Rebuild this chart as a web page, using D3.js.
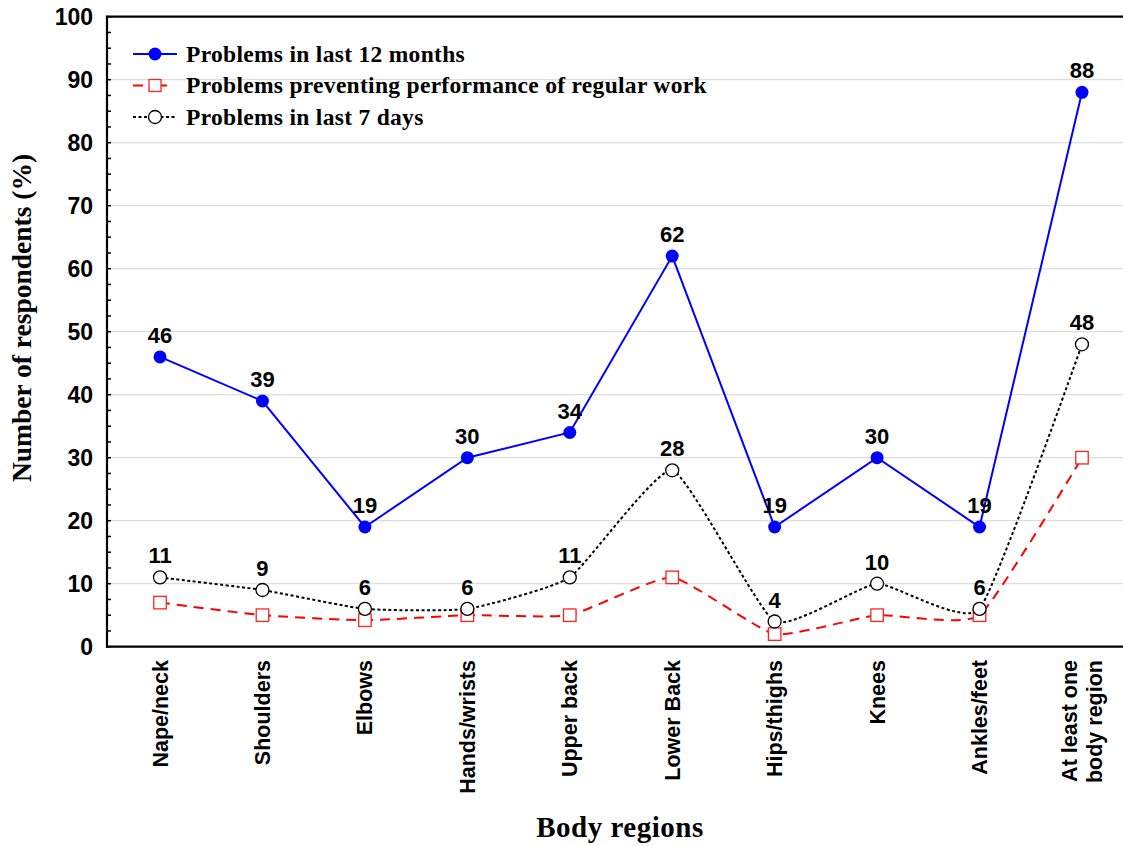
<!DOCTYPE html>
<html>
<head>
<meta charset="utf-8">
<script src="https://cdn.jsdelivr.net/npm/d3@7"></script>
<style>
  html, body { margin: 0; padding: 0; background: #fff; }
  svg { display: block; }
</style>
</head>
<body>
<svg id="chart" width="1123" height="846"></svg>
<script>
const categories = ["Nape/neck", "Shoulders", "Elbows", "Hands/wrists", "Upper back", "Lower Back", "Hips/thighs", "Knees", "Ankles/feet", "At least one\nbody region"];
const problems12Months = [46, 39, 19, 30, 34, 62, 19, 30, 19, 88];
const problemsWork = [7, 5, 4.2, 5, 5, 11, 2, 5, 5, 30];
const problems7Days = [11, 9, 6, 6, 11, 28, 4, 10, 6, 48];
const yTicks = [0, 10, 20, 30, 40, 50, 60, 70, 80, 90, 100];
const legendLabels = ["Problems in last 12 months", "Problems preventing performance of regular work", "Problems in last 7 days"];

(function () {
const svg = d3.select("#chart");
const pLeft = 107, pRight = 1123, pTop = 16.7, pBottom = 646.7;

const x = d3.scalePoint().domain(categories).range([108.8, 1133.2]).padding(0.5);
const y = d3.scaleLinear().domain([0, 100]).range([pBottom, pTop]);

// gridlines
svg.append("g").selectAll("line").data(yTicks.filter(d => d > 0 && d < 100)).join("line")
  .attr("x1", pLeft).attr("x2", pRight)
  .attr("y1", d => y(d)).attr("y2", d => y(d))
  .attr("stroke", "#d6d6d6").attr("stroke-width", 1);

// minor ticks
const minor = d3.range(0, 100.1, 2.5);
svg.append("g").selectAll("line").data(minor).join("line")
  .attr("x1", pLeft - 1).attr("x2", pLeft + 4)
  .attr("y1", d => y(d)).attr("y2", d => y(d))
  .attr("stroke", "#000").attr("stroke-width", 1.5);

// frame
svg.append("line").attr("x1", pLeft).attr("x2", pLeft).attr("y1", pTop - 1).attr("y2", pBottom + 1).attr("stroke", "#000").attr("stroke-width", 2.2);
svg.append("line").attr("x1", pLeft - 1).attr("x2", pRight).attr("y1", pBottom).attr("y2", pBottom).attr("stroke", "#000").attr("stroke-width", 2.2);
svg.append("line").attr("x1", pLeft - 1).attr("x2", pRight).attr("y1", pTop).attr("y2", pTop).attr("stroke", "#000").attr("stroke-width", 2.2);

// y tick labels
svg.append("g").selectAll("text").data(yTicks).join("text")
  .attr("x", 93).attr("y", d => y(d) + 8)
  .attr("text-anchor", "end")
  .attr("font-family", "Liberation Sans, Arial, sans-serif").attr("font-weight", "bold").attr("font-size", 23)
  .text(d => d);

// x labels
const xl = svg.append("g").selectAll("text").data(categories).join("text")
  .attr("transform", d => `translate(${x(d)},660) rotate(-90)`)
  .attr("text-anchor", "end")
  .attr("font-family", "Liberation Sans, Arial, sans-serif").attr("font-weight", "bold").attr("font-size", 21.5);
xl.each(function(d) {
  const lines = d.split("\n");
  const t = d3.select(this);
  if (lines.length === 1) {
    t.append("tspan").attr("x", 0).attr("y", 7.5).text(lines[0]);
  } else {
    t.append("tspan").attr("x", 0).attr("y", 7.5 - 12.5).text(lines[0]);
    t.append("tspan").attr("x", 0).attr("y", 7.5 + 12.5).text(lines[1]);
  }
});

// axis titles
svg.append("text")
  .attr("transform", "translate(31,318) rotate(-90)")
  .attr("text-anchor", "middle")
  .attr("font-family", "Liberation Serif, Times New Roman, serif").attr("font-weight", "bold").attr("font-size", 27.5)
  .text("Number of respondents (%)");
svg.append("text")
  .attr("x", 620).attr("y", 837)
  .attr("text-anchor", "middle")
  .attr("font-family", "Liberation Serif, Times New Roman, serif").attr("font-weight", "bold").attr("font-size", 29)
  .attr("letter-spacing", 0.5)
  .text("Body regions");

// lines
const lineLinear = d3.line().x((d, i) => x(categories[i])).y(d => y(d));
const lineCurve = d3.line().x((d, i) => x(categories[i])).y(d => y(d)).curve(d3.curveCardinal.tension(0.55));

svg.append("path").datum(problemsWork).attr("d", lineCurve)
  .attr("fill", "none").attr("stroke", "#ff0000").attr("stroke-width", 2).attr("stroke-dasharray", "10,7");
svg.append("path").datum(problems7Days).attr("d", lineCurve)
  .attr("fill", "none").attr("stroke", "#000").attr("stroke-width", 2).attr("stroke-dasharray", "3,2.5");
svg.append("path").datum(problems12Months).attr("d", lineLinear)
  .attr("fill", "none").attr("stroke", "#0000ff").attr("stroke-width", 2);

// markers
const sq = 12.5;
svg.append("g").selectAll("rect").data(problemsWork).join("rect")
  .attr("x", (d, i) => x(categories[i]) - sq / 2).attr("y", d => y(d) - sq / 2)
  .attr("width", sq).attr("height", sq)
  .attr("fill", "#fff").attr("stroke", "#f22").attr("stroke-width", 1.3);
svg.append("g").selectAll("circle").data(problems7Days).join("circle")
  .attr("cx", (d, i) => x(categories[i])).attr("cy", d => y(d)).attr("r", 6.5)
  .attr("fill", "#fff").attr("stroke", "#000").attr("stroke-width", 1.3);
svg.append("g").selectAll("circle").data(problems12Months).join("circle")
  .attr("cx", (d, i) => x(categories[i])).attr("cy", d => y(d)).attr("r", 6.5)
  .attr("fill", "#0000ff");

// value labels
const lblFont = "Liberation Sans, Arial, sans-serif";
svg.append("g").selectAll("text").data(problems12Months).join("text")
  .attr("x", (d, i) => x(categories[i])).attr("y", d => y(d) - 14)
  .attr("text-anchor", "middle").attr("font-family", lblFont).attr("font-weight", "bold").attr("font-size", 22)
  .text(d => d);
svg.append("g").selectAll("text").data(problems7Days).join("text")
  .attr("x", (d, i) => x(categories[i])).attr("y", d => y(d) - 14)
  .attr("text-anchor", "middle").attr("font-family", lblFont).attr("font-weight", "bold").attr("font-size", 22)
  .text(d => d);

// legend
const lg = svg.append("g");
const rows = [54, 85.5, 117];
const lx1 = 133, lx2 = 177, lm = 155;
lg.append("line").attr("x1", lx1).attr("x2", lx2).attr("y1", rows[0]).attr("y2", rows[0]).attr("stroke", "#0000ff").attr("stroke-width", 2);
lg.append("circle").attr("cx", lm).attr("cy", rows[0]).attr("r", 6.5).attr("fill", "#0000ff");
lg.append("line").attr("x1", lx1).attr("x2", lx2).attr("y1", rows[1]).attr("y2", rows[1]).attr("stroke", "#ff0000").attr("stroke-width", 2).attr("stroke-dasharray", "10,14");
lg.append("rect").attr("x", lm - 6).attr("y", rows[1] - 6).attr("width", 12).attr("height", 12).attr("fill", "#fff").attr("stroke", "#f22").attr("stroke-width", 1.3);
lg.append("line").attr("x1", lx1).attr("x2", lx2).attr("y1", rows[2]).attr("y2", rows[2]).attr("stroke", "#000").attr("stroke-width", 2).attr("stroke-dasharray", "3,2.5");
lg.append("circle").attr("cx", lm).attr("cy", rows[2]).attr("r", 6.5).attr("fill", "#fff").attr("stroke", "#000").attr("stroke-width", 1.3);
lg.selectAll("text").data(legendLabels).join("text")
  .attr("x", 186).attr("y", (d, i) => rows[i] + 7.5)
  .attr("font-family", "Liberation Serif, Times New Roman, serif").attr("font-weight", "bold").attr("font-size", 23.5)
  .attr("letter-spacing", 0.3)
  .text(d => d);
})();
</script>
</body>
</html>
